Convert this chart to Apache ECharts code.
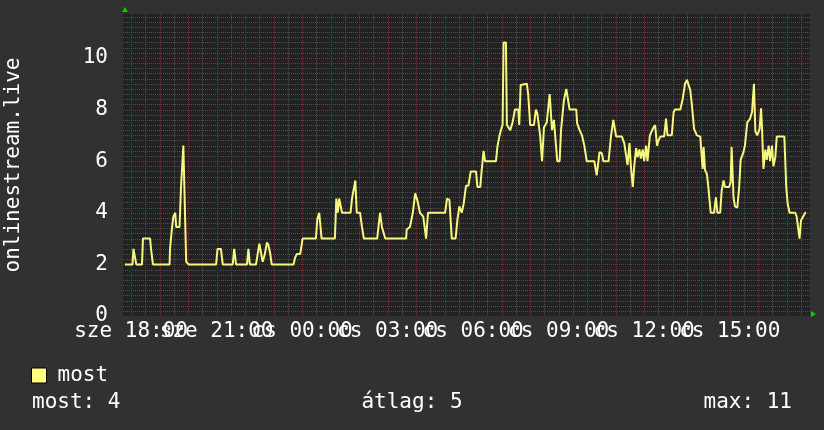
<!DOCTYPE html>
<html>
<head>
<meta charset="utf-8">
<script src="https://cdn.jsdelivr.net/npm/echarts@6/dist/echarts.min.js"></script>
<style>
html,body{margin:0;padding:0;background:#313131;}
#c{width:824px;height:430px;}
</style>
</head>
<body>
<div id="c"></div>
<script>
// minutes relative to sze 18:00
const times = [
 -13,3,5,8,11,23,25,40,42,46,81,82,86,89,93,95,102,105,109,110,114,116,121,
 179,182,189,193,214,217,221,244,247,250,263,266,270,274,277,281,286,289,293,296,
 342,345,349,356,361,389,392,396,399,401,429,432,435,438,444,462,465,468,472,475,
 482,486,490,518,524,528,535,579,580,584,587,593,598,603,608,615,621,625,661,665,
 670,675,683,687,691,696,700,705,710,715,726,729,735,738,742,745,768,771,775,780,
 782,784,789,791,798,803,808,815,817,820,833,836,840,848,852,855,861,865,869,875,
 881,886,890,894,897,902,905,909,911,916,918,923,937,939,944,949,954,959,975,980,
 983,986,991,994,1005,1010,1015,1021,1033,1038,1042,1045,1049,1052,1056,1059,1063,1066,1070,1073,
 1077,1080,1084,1087,1092,1098,1103,1107,1110,1114,1122,1126,1129,1138,1142,1145,1156,1161,1166,1170,
 1173,1177,1180,1185,1191,1198,1203,1205,1208,1212,1215,1220,1227,1231,1234,1240,1243,1247,1250,1259,
 1262,1264,1268,1271,1276,1280,1283,1289,1292,1297,1303,1307,1311,1314,1318,1323,1326,1328,1331,1335,
 1338,1342,1345,1349,1352,1356,1359,1375,1379,1382,1386,1398,1401,1407,1410,1414,1419,1421
];
const values = [
 2.0,2.0,2.6,2.6,2.0,2.0,3.0,3.0,2.6,2.0,2.0,2.6,3.4,3.85,4.0,3.45,3.45,4.95,4.95,6.6,6.6,2.1,2.0,
 2.0,2.6,2.6,2.0,2.0,2.6,2.0,2.0,2.6,2.0,2.0,2.35,2.8,2.8,2.1,2.35,2.85,2.75,2.4,2.0,
 2.0,2.25,2.4,2.4,3.0,3.0,3.75,4.0,4.0,3.0,3.0,4.55,4.0,4.55,4.0,4.0,4.55,4.55,5.25,4.0,
 4.0,3.45,3.0,3.0,4.0,3.45,3.0,3.0,3.35,3.3,3.45,4.0,4.75,4.45,4.0,3.85,3.0,4.0,4.0,4.55,
 4.5,3.0,3.0,3.75,4.25,4.0,4.35,5.05,5.05,5.6,5.6,5.0,5.0,5.65,6.4,6.0,6.0,6.55,6.95,7.3,
 7.4,10.6,10.6,7.4,7.2,7.5,8.0,8.0,7.4,8.95,9.0,8.55,7.4,7.4,8.0,7.85,7.0,6.0,7.3,7.5,
 8.6,7.2,7.6,7.55,6.0,6.0,7.2,7.2,8.35,8.8,8.8,8.0,8.0,7.45,7.2,7.0,6.6,6.0,6.0,5.45,
 5.45,6.35,6.3,6.0,6.0,6.95,7.6,6.95,6.95,6.7,6.65,5.85,6.7,5.8,5.0,5.8,6.5,6.15,6.45,6.1,
 6.45,6.0,6.6,6.0,7.0,7.25,7.4,6.6,6.8,6.95,6.95,7.65,7.0,7.0,7.9,8.0,8.0,8.4,9.0,9.15,
 9.1,8.75,8.25,7.25,7.0,6.95,5.7,6.55,5.65,5.5,5.0,4.0,4.0,4.6,4.0,4.0,4.85,5.25,5.0,5.0,
 5.2,6.55,4.6,4.25,4.2,5.0,6.05,6.35,6.6,7.5,7.65,7.9,9.0,7.15,7.0,7.25,8.05,7.3,5.7,6.45,
 6.05,6.6,6.0,6.6,5.8,6.15,6.95,6.95,5.0,4.35,4.0,4.0,3.85,3.0,3.7,3.7,4.0,4.0
];
const xTickMinutes = [0,180,360,540,720,900,1080,1260];
const xTickLabels = ['sze 18:00','sze 21:00','cs 00:00','cs 03:00','cs 06:00','cs 09:00','cs 12:00','cs 15:00'];
const yTickValues = [0,2,4,6,8,10];
const yTickLabels = ['0','2','4','6','8','10'];
const seriesName = 'most';
const axisTitle = 'onlinestream.live';
const statLines = [['most: 4','left'],['átlag: 5','center'],['max: 11','right']];

const X_MIN = -17, X_MAX = 1429, Y_MAX = 11.7;
const FONT = 'DejaVu Sans Mono';
const GREY = '#4e4e4e', RED = '#6e3333';

// grid lines (decoration): [x, y, orientation(0=vertical,1=horizontal), major]
const gridMinor = [], gridMajor = [];
for (let m = 0; m <= X_MAX; m += 30) (m % 60 === 0 ? gridMajor : gridMinor).push([m, 0, 0]);
for (let i = 1; i * 0.2 < Y_MAX; i++) (i % 10 === 0 ? gridMajor : gridMinor).push([X_MIN, +(i * 0.2).toFixed(1), 1]);
const gridData = gridMinor.map(d => d.concat(0)).concat(gridMajor.map(d => d.concat(1)));

const data = times.map((t, i) => [t, values[i]]);

const labelsFor = parity => xTickMinutes.filter((v, i) => i % 2 === parity);
const xLabel = vals => ({
  customValues: vals, color: '#ffffff', fontSize: 21, fontFamily: FONT, margin: 5, lineHeight: 21,
  hideOverlap: false, showMinLabel: true, showMaxLabel: true,
  formatter: v => xTickLabels[xTickMinutes.indexOf(Math.round(v))] || ''
});
const baseX = {type: 'value', min: X_MIN, max: X_MAX, position: 'bottom', axisLine: {show: false}, axisTick: {show: false}, splitLine: {show: false}};

const chart = echarts.init(document.getElementById('c'), null, {renderer: 'canvas'});
chart.setOption({
  backgroundColor: '#313131',
  animation: false,
  grid: {left: 123, right: 14, top: 14, bottom: 114, show: true, backgroundColor: '#222222', borderWidth: 0, containLabel: false, outerBoundsMode: 'none'},
  legend: {
    data: [seriesName], left: 31, top: 365, padding: 0, icon: 'rect', itemWidth: 15, itemHeight: 15,
    itemStyle: {color: '#ffff80', borderColor: '#000000', borderWidth: 1},
    textStyle: {color: '#ffffff', fontSize: 21, fontFamily: FONT, padding: [0, 0, 0, 6]}
  },
  xAxis: [
    Object.assign({}, baseX, {axisLabel: xLabel(labelsFor(0))}),
    Object.assign({}, baseX, {axisLabel: xLabel(labelsFor(1))})
  ],
  yAxis: [{
    type: 'value', min: 0, max: Y_MAX,
    axisLine: {show: false}, axisTick: {show: false}, splitLine: {show: false},
    axisLabel: {
      customValues: yTickValues, color: '#ffffff', fontSize: 21, fontFamily: FONT, margin: 15,
      showMinLabel: true, showMaxLabel: true,
      formatter: v => yTickLabels[yTickValues.indexOf(Math.round(v))] || ''
    },
    name: axisTitle, nameLocation: 'middle', nameGap: 99, nameRotate: 90,
    nameTextStyle: {color: '#ffffff', fontSize: 21, fontFamily: FONT}
  }],
  series: [
    {
      type: 'custom', name: 'grid', silent: true, z: 1, xAxisIndex: 0, yAxisIndex: 0,
      data: gridData, encode: {x: 0, y: 1}, clip: false,
      renderItem: (params, api) => {
        const cs = params.coordSys;
        const horiz = api.value(2) === 1;
        const color = api.value(3) === 1 ? RED : GREY;
        const p = api.coord([api.value(0), api.value(1)]);
        let shape;
        if (horiz) {
          const y = Math.round(p[1]) + 0.5;
          shape = {x1: cs.x, y1: y, x2: cs.x + cs.width, y2: y};
        } else {
          const x = Math.round(p[0]) + 0.5;
          shape = {x1: x, y1: cs.y, x2: x, y2: cs.y + cs.height};
        }
        return {type: 'line', shape: shape, style: {stroke: color, lineWidth: 1, lineDash: [1, 1]}};
      }
    },
    {
      name: seriesName, type: 'line', xAxisIndex: 0, yAxisIndex: 0,
      data: data, showSymbol: false, smooth: false,
      lineStyle: {color: '#f7f77e', width: 2}, itemStyle: {color: '#ffff80'}, z: 5
    }
  ]
});

// decorations: axis arrows and summary lines
const tl = chart.convertToPixel({gridIndex: 0}, [X_MIN, Y_MAX]);
const br = chart.convertToPixel({gridIndex: 0}, [X_MAX, 0]);
const statGraphics = statLines.map(([txt, align]) => {
  const x = align === 'left' ? 32 : (align === 'center' ? 412 : 792);
  return {type: 'text', x: x, y: 403, z: 10,
    style: {text: txt, fill: '#ffffff', font: '21px "' + FONT + '"', textAlign: align, textVerticalAlign: 'middle'}};
});
chart.setOption({
  graphic: [
    {type: 'polygon', shape: {points: [[tl[0] - 1, tl[1] - 2], [tl[0] + 5, tl[1] - 2], [tl[0] + 2, tl[1] - 7]]}, style: {fill: '#00d000'}},
    {type: 'polygon', shape: {points: [[br[0] + 1, br[1] - 5], [br[0] + 1, br[1] + 1], [br[0] + 6, br[1] - 2]]}, style: {fill: '#00d000'}}
  ].concat(statGraphics)
});
</script>
</body>
</html>
